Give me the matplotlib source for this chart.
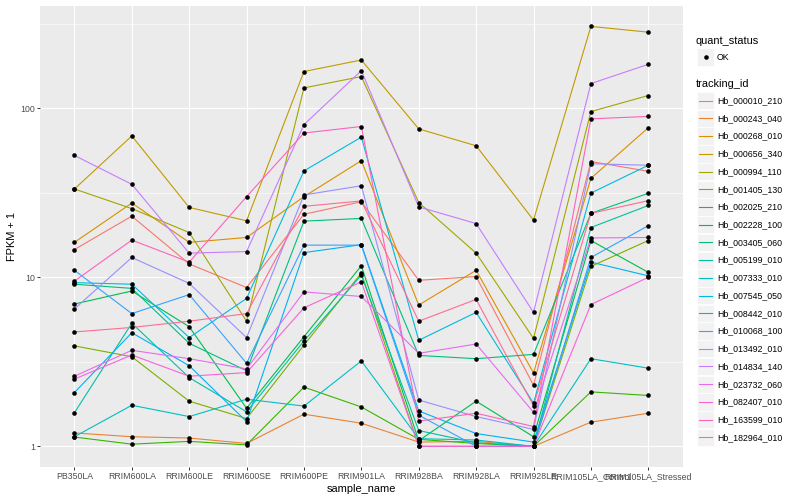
import matplotlib
matplotlib.use("Agg")
import matplotlib.pyplot as plt
import numpy as np
from matplotlib.patches import Rectangle
from matplotlib.lines import Line2D
from matplotlib.ticker import NullFormatter

samples = ["PB350LA", "RRIM600LA", "RRIM600LE", "RRIM600SE", "RRIM600PE",
           "RRIM901LA", "RRIM928BA", "RRIM928LA", "RRIM928LE",
           "RRIM105LA_Control", "RRIM105LA_Stressed"]

tracking_ids = ["Hb_000010_210", "Hb_000243_040", "Hb_000268_010", "Hb_000656_340",
                "Hb_000994_110", "Hb_001405_130", "Hb_002025_210", "Hb_002228_100",
                "Hb_003405_060", "Hb_005199_010", "Hb_007333_010", "Hb_007545_050",
                "Hb_008442_010", "Hb_010068_100", "Hb_013492_010", "Hb_014834_140",
                "Hb_023732_060", "Hb_082407_010", "Hb_163599_010", "Hb_182964_010"]

# FPKM + 1 per sample
hb_000010_210 = [14.6, 23.0, 12.0, 8.7, 23.6, 28.0, 9.6, 10.1, 2.3, 48.4, 42.4]
hb_000243_040 = [1.20, 1.14, 1.12, 1.04, 1.55, 1.37, 1.06, 1.07, 1.0, 1.39, 1.57]
hb_000268_010 = [16.1, 27.5, 16.1, 17.2, 30.0, 49.0, 6.85, 11.0, 2.72, 38.5, 76.7]
hb_000656_340 = [33.3, 68.6, 25.9, 21.6, 165, 193, 75.5, 60.0, 21.8, 305, 282]
hb_000994_110 = [33.3, 25.5, 18.4, 5.5, 132, 154, 27.7, 13.9, 4.35, 95.6, 119]
hb_001405_130 = [3.93, 3.39, 1.85, 1.46, 3.97, 10.6, 1.0, 1.0, 1.0, 11.6, 16.5]
hb_002025_210 = [1.135, 1.03, 1.07, 1.02, 2.24, 1.71, 1.10, 1.04, 1.0, 2.1, 2.0]
hb_002228_100 = [6.95, 8.3, 5.1, 1.68, 4.45, 11.7, 1.08, 1.85, 1.14, 16.5, 10.7]
hb_003405_060 = [9.1, 8.6, 4.07, 2.8, 21.5, 22.3, 3.45, 3.3, 3.5, 23.9, 31.4]
hb_005199_010 = [1.58, 5.35, 2.55, 1.6, 4.2, 10.3, 1.24, 1.05, 1.0, 19.7, 26.6]
hb_007333_010 = [1.14, 1.75, 1.5, 1.9, 1.73, 3.2, 1.11, 1.09, 1.0, 3.3, 2.9]
hb_007545_050 = [9.3, 9.1, 4.4, 7.5, 42.6, 67.5, 4.24, 6.2, 1.8, 31.5, 46.0]
hb_008442_010 = [2.08, 4.7, 3.0, 1.4, 14.0, 15.6, 1.62, 1.19, 1.06, 12.3, 10.2]
hb_010068_100 = [11.0, 6.1, 7.9, 3.1, 15.5, 15.5, 1.53, 1.0, 1.0, 13.1, 20.2]
hb_013492_010 = [6.5, 13.1, 9.2, 4.4, 30.7, 34.8, 1.88, 1.5, 1.26, 47.0, 46.0]
hb_014834_140 = [52.6, 35.5, 13.9, 14.2, 80.0, 167, 26.1, 20.8, 6.2, 140, 182]
hb_023732_060 = [2.6, 3.7, 3.3, 2.87, 8.2, 7.7, 3.55, 4.03, 1.59, 17.1, 17.2]
hb_082407_010 = [2.5, 3.47, 2.6, 2.73, 6.6, 9.4, 1.0, 1.0, 1.0, 6.9, 10.0]
hb_163599_010 = [9.5, 16.6, 12.3, 30.0, 71.4, 78.0, 1.41, 1.57, 1.31, 86.6, 89.5]
hb_182964_010 = [4.75, 5.05, 5.5, 6.1, 26.3, 28.3, 5.5, 7.4, 1.74, 23.9, 28.4]

series_values = [hb_000010_210, hb_000243_040, hb_000268_010, hb_000656_340,
                 hb_000994_110, hb_001405_130, hb_002025_210, hb_002228_100,
                 hb_003405_060, hb_005199_010, hb_007333_010, hb_007545_050,
                 hb_008442_010, hb_010068_100, hb_013492_010, hb_014834_140,
                 hb_023732_060, hb_082407_010, hb_163599_010, hb_182964_010]

colors = ["#F8766D", "#EA8331", "#D89000", "#C09B00", "#A3A500", "#7CAE00",
          "#39B600", "#00BB4E", "#00BF7D", "#00C1A3", "#00BFC4", "#00BAE0",
          "#00B0F6", "#35A2FF", "#9590FF", "#C77CFF", "#E76BF3", "#FA62DB",
          "#FF62BC", "#FF6C91"]

plt.rcParams['font.family'] = ['Liberation Sans', 'DejaVu Sans']

W, H = 800, 500
fig = plt.figure(figsize=(8, 5), dpi=100)
fig.patch.set_facecolor('white')

def fx(px):
    return px / W

def fy(py):
    return 1 - py / H

left, right, top, bottom = 40, 682.7, 5.5, 467.3
ax = fig.add_axes([fx(left), fy(bottom), (right - left) / W, (bottom - top) / H])
ax.set_facecolor('#EBEBEB')

x = np.arange(len(samples))
for vals, c in zip(series_values, colors):
    ax.plot(x, vals, color=c, lw=0.8, zorder=2, solid_capstyle='butt')
for vals in series_values:
    ax.plot(x, vals, ls='none', marker='o', ms=3.3, mec='black', mfc='black',
            mew=0, zorder=3)

ax.set_yscale('log')
ax.set_ylim(10 ** -0.124, 10 ** 2.608)
ax.set_xlim(-0.6, len(samples) - 1 + 0.6)
ax.set_yticks([1, 10, 100])
ax.set_yticklabels(['1', '10', '100'])
ax.set_yticks([10 ** 0.5, 10 ** 1.5, 10 ** 2.5], minor=True)
ax.yaxis.set_minor_formatter(NullFormatter())
ax.set_xticks(x)
ax.set_xticklabels(samples)
ax.xaxis.set_minor_locator(matplotlib.ticker.NullLocator())

ax.set_axisbelow(True)
ax.grid(which='major', color='white', lw=0.8)
ax.grid(which='minor', axis='y', color='white', lw=0.4)
for s in ax.spines.values():
    s.set_visible(False)
ax.tick_params(which='major', length=2.0, width=0.7, color='#333333',
               labelsize=6.3, labelcolor='#4D4D4D', pad=1.6)
ax.tick_params(which='minor', length=0)

fig.text(fx((left + right) / 2), fy(489), 'sample_name', ha='center', va='center',
         fontsize=7.9, color='black')
fig.text(fx(12), fy((top + bottom) / 2), 'FPKM + 1', ha='center', va='center',
         rotation=90, fontsize=7.9, color='black')

# Legend: quant_status
fig.text(fx(696), fy(40.7), 'quant_status', ha='left', va='center', fontsize=7.9)
key_w, key_h = 17.0, 17.28
kx0 = 697
fig.add_artist(Rectangle((fx(kx0), fy(57 + key_h / 2)), key_w / W, key_h / H,
                         transform=fig.transFigure, facecolor='#F2F2F2',
                         edgecolor='white', lw=0.5))
fig.add_artist(Line2D([fx(kx0 + key_w / 2)], [fy(57)], transform=fig.transFigure,
                      ls='none', marker='o', ms=3.3, mfc='black', mec='black', mew=0))
fig.text(fx(717), fy(57), 'OK', ha='left', va='center', fontsize=6.3)

# Legend: tracking_id
fig.text(fx(696), fy(84.3), 'tracking_id', ha='left', va='center', fontsize=7.9)
for i, (tid, c) in enumerate(zip(tracking_ids, colors)):
    cy = 100.7 + i * 17.72
    fig.add_artist(Rectangle((fx(kx0), fy(cy + key_h / 2)), key_w / W, key_h / H,
                             transform=fig.transFigure, facecolor='#F2F2F2',
                             edgecolor='white', lw=0.5))
    fig.add_artist(Line2D([fx(kx0 + 1.7), fx(kx0 + key_w - 1.7)], [fy(cy), fy(cy)],
                          transform=fig.transFigure, color=c, lw=0.8))
    fig.text(fx(717), fy(cy), tid, ha='left', va='center', fontsize=6.3)

fig.savefig('out.png', dpi=100)
